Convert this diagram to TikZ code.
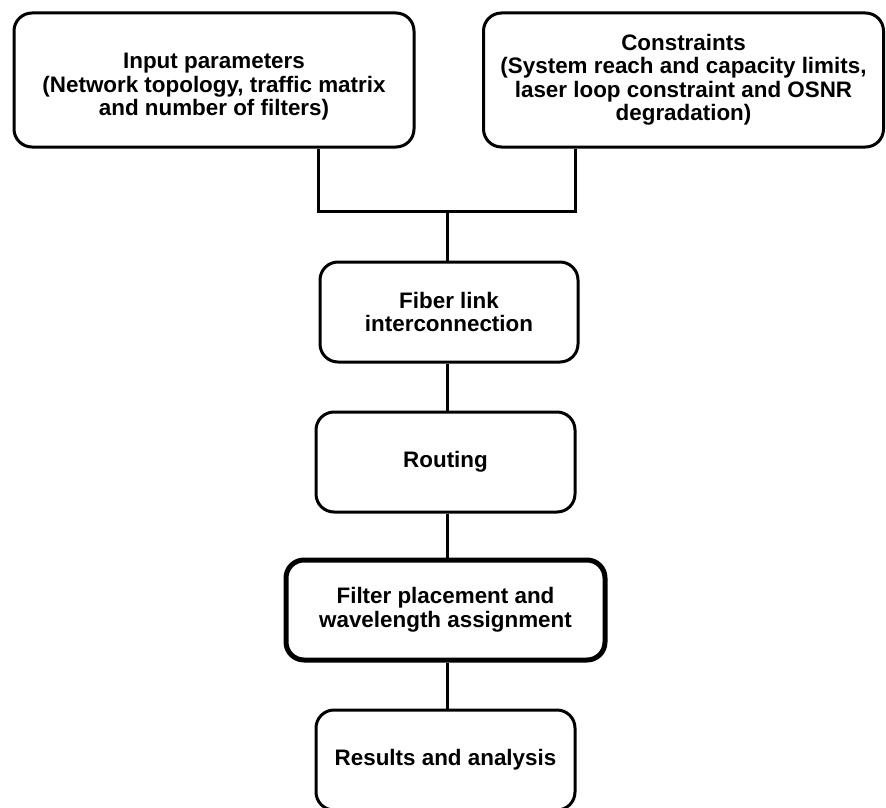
\documentclass[tikz,border=0pt]{standalone}
\usepackage{fontspec}
\setmainfont{Liberation Sans}
\begin{document}
\begin{tikzpicture}[x=1pt,y=-1pt,
  stepbox/.style={draw=black, line width=3pt, rounded corners=18pt, align=center,
    font=\bfseries\fontsize{22.4}{23.5}\selectfont, inner sep=0pt},
  keybox/.style={stepbox, line width=5pt},
  link/.style={line width=3pt}]
\useasboundingbox (0,0) rectangle (886,808);
% top inputs
\node[stepbox, minimum width=400pt, minimum height=134pt] (inp) at (214,80)
  {\parbox{395pt}{\vspace*{14pt}\centering Input parameters\\(Network topology, traffic matrix\\and number of filters)}};
\node[stepbox, minimum width=400pt, minimum height=134pt] (con) at (683.5,80)
  {\parbox{395pt}{\centering Constraints\\(System reach and capacity limits,\\laser loop constraint and OSNR\\degradation)}};
% process chain
\node[stepbox, minimum width=258pt, minimum height=100pt] (fib) at (449,312)
  {Fiber link\\interconnection};
\node[stepbox, minimum width=259pt, minimum height=100pt] (rout) at (445.5,462) {Routing};
\node[keybox, minimum width=319pt, minimum height=100pt] (fil) at (445.5,610)
  {Filter placement and\\wavelength assignment};
\node[stepbox, minimum width=259pt, minimum height=100pt] (res) at (445.5,760) {Results and analysis};
% merge of the two inputs
\coordinate (jl) at (318,211);
\coordinate (jr) at (575,211);
\coordinate (jm) at (447,211);
\draw[link] (inp.south -| jl) -- (jl) -- (jr) -- (con.south -| jr);
\draw[link] (jm) -- (jm |- fib.north);
\draw[link] (fib.south -| jm) -- (jm |- rout.north);
\draw[link] (rout.south -| jm) -- (jm |- fil.north);
\draw[link] (fil.south -| jm) -- (jm |- res.north);
\end{tikzpicture}
\end{document}
